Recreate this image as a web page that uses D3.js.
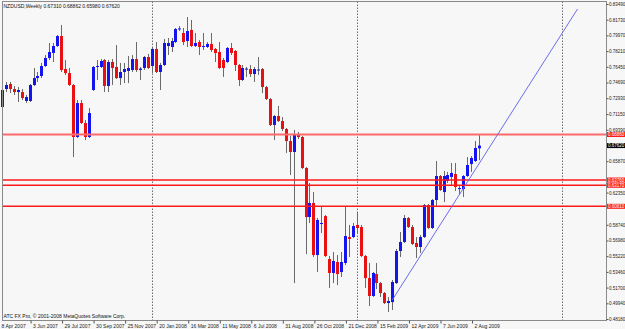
<!DOCTYPE html>
<html>
<head>
<meta charset="utf-8">
<script src="https://cdn.jsdelivr.net/npm/d3@7"></script>
<style>
  html, body { margin: 0; padding: 0; background: #f7f7f7; }
  svg { display: block; font-family: "Liberation Sans", Arial, sans-serif; }
</style>
</head>
<body>
<svg id="chart" width="625" height="329"></svg>
<script>
// weekly NZDUSD bars
const open = [
  0.7194,0.7396,0.7452,0.7396,0.7362,0.7362,0.7262,0.7262,0.7441,0.7519,
  0.7542,0.7654,0.7744,0.7800,0.7878,0.7990,0.7620,0.7575,0.7441,0.6858,
  0.7239,0.7015,0.6858,0.7385,0.7650,0.7643,0.7721,0.7430,0.7699,0.7643,
  0.7519,0.7587,0.7598,0.7609,0.7732,0.7609,0.7632,0.7755,0.7654,0.7845,
  0.7587,0.7665,0.7878,0.7867,0.7923,0.8069,0.8024,0.7934,0.8058,0.7878,
  0.7923,0.7873,0.7867,0.7901,0.7845,0.7811,0.7721,0.7699,0.7856,0.7822,
  0.7665,0.7497,0.7620,0.7620,0.7564,0.7609,0.7620,0.7418,0.7284,0.6993,
  0.7093,0.7037,0.6948,0.6813,0.6690,0.6880,0.6858,0.6511,0.5961,0.6118,
  0.5535,0.5883,0.5972,0.5490,0.5334,0.5457,0.5345,0.5446,0.5737,0.5737,
  0.5872,0.5849,0.5524,0.5277,0.5076,0.5322,0.5221,0.5109,0.4997,0.5008,
  0.5221,0.5580,0.5681,0.5950,0.5849,0.5670,0.5625,0.5737,0.6096,0.5838,
  0.6152,0.6421,0.6241,0.6365,0.6410,0.6443,0.6280,0.6275,0.6421,0.6555,
  0.6589,0.6731
];
const high = [
  0.7407,0.7475,0.7475,0.7430,0.7418,0.7396,0.7329,0.7452,0.7632,0.7587,
  0.7688,0.7777,0.7912,0.7912,0.8001,0.8114,0.7721,0.7632,0.7452,0.7273,
  0.7273,0.7049,0.7183,0.7654,0.7721,0.7732,0.7732,0.7721,0.7732,0.7889,
  0.7688,0.7688,0.7766,0.7777,0.7923,0.7643,0.7766,0.7789,0.7867,0.7923,
  0.7688,0.7957,0.7968,0.7968,0.8080,0.8102,0.8080,0.8203,0.8170,0.8024,
  0.7945,0.8024,0.7923,0.8024,0.7856,0.7923,0.7744,0.7867,0.7912,0.7833,
  0.7676,0.7665,0.7643,0.7665,0.7643,0.7755,0.7632,0.7430,0.7295,0.7105,
  0.7206,0.7082,0.6959,0.6869,0.6937,0.6914,0.6869,0.6520,0.6342,0.6241,
  0.5950,0.6073,0.5984,0.5524,0.5569,0.5535,0.5569,0.6085,0.5872,0.5894,
  0.6006,0.5872,0.5535,0.5446,0.5345,0.5446,0.5233,0.5120,0.5064,0.5255,
  0.5603,0.5793,0.5984,0.5961,0.5872,0.5737,0.5759,0.6107,0.6107,0.6163,
  0.6589,0.6432,0.6477,0.6466,0.6567,0.6567,0.6320,0.6432,0.6634,0.6645,
  0.6813,0.68862
];
const low = [
  0.7183,0.7362,0.7351,0.7329,0.7250,0.7273,0.7239,0.7250,0.7430,0.7475,
  0.7519,0.7643,0.7721,0.7699,0.7867,0.7587,0.7553,0.7430,0.6634,0.6847,
  0.7004,0.6824,0.6847,0.7374,0.7497,0.7632,0.7362,0.7362,0.7441,0.7508,
  0.7441,0.7463,0.7463,0.7587,0.7587,0.7497,0.7609,0.7620,0.7575,0.7575,
  0.7385,0.7654,0.7777,0.7811,0.7912,0.8046,0.7889,0.7867,0.7867,0.7867,
  0.7777,0.7833,0.7856,0.7811,0.7699,0.7620,0.7531,0.7688,0.7777,0.7598,
  0.7430,0.7486,0.7531,0.7531,0.7475,0.7553,0.7351,0.7273,0.6981,0.6824,
  0.7026,0.6925,0.6679,0.6432,0.5221,0.6836,0.6499,0.5546,0.5894,0.5513,
  0.5345,0.5782,0.5513,0.5165,0.5221,0.5199,0.5289,0.5423,0.5513,0.5726,
  0.5782,0.5513,0.5165,0.4963,0.5064,0.5154,0.5064,0.4986,0.4896,0.4919,
  0.5210,0.5513,0.5670,0.5838,0.5647,0.5502,0.5558,0.5726,0.5827,0.5827,
  0.6085,0.6253,0.6129,0.6342,0.6309,0.6253,0.6208,0.6185,0.6410,0.6466,
  0.6578,0.6598
];
const close = [
  0.7385,0.7441,0.7396,0.7362,0.7385,0.7295,0.7306,0.7441,0.7519,0.7542,
  0.7654,0.7744,0.7811,0.7878,0.7990,0.7609,0.7575,0.7441,0.6858,0.7239,
  0.7015,0.6858,0.7127,0.7643,0.7654,0.7710,0.7430,0.7699,0.7632,0.7519,
  0.7587,0.7620,0.7632,0.7732,0.7609,0.7625,0.7755,0.7632,0.7845,0.7587,
  0.7665,0.7912,0.7912,0.7934,0.8069,0.8075,0.7923,0.8046,0.7878,0.7912,
  0.7867,0.7878,0.7901,0.7833,0.7800,0.7632,0.7632,0.7856,0.7800,0.7665,
  0.7497,0.7632,0.7625,0.7564,0.7620,0.7615,0.7418,0.7284,0.6993,0.7093,
  0.7037,0.6948,0.6813,0.6690,0.6880,0.6858,0.6511,0.5961,0.6118,0.5535,
  0.5928,0.5894,0.5524,0.5334,0.5468,0.5322,0.5457,0.5748,0.5715,0.5860,
  0.5838,0.5524,0.5277,0.5076,0.5334,0.5221,0.5109,0.4997,0.5020,0.5233,
  0.5580,0.5681,0.5950,0.5849,0.5659,0.5625,0.5737,0.6096,0.5838,0.6152,
  0.6421,0.6264,0.6421,0.6432,0.6455,0.6298,0.6286,0.6421,0.6544,0.6623,
  0.6735,0.6762
];

const dateBars = [0, 8, 16, 24, 32, 40, 48, 56, 64, 72, 80, 88, 96, 104, 112, 120];
const dateLabels = ["8 Apr 2007", "3 Jun 2007", "29 Jul 2007", "30 Sep 2007", "25 Nov 2007",
  "20 Jan 2008", "16 Mar 2008", "11 May 2008", "6 Jul 2008", "31 Aug 2008", "26 Oct 2008",
  "21 Dec 2008", "15 Feb 2009", "12 Apr 2009", "7 Jun 2009", "2 Aug 2009"];
const priceTicks = [0.83490, 0.81730, 0.79970, 0.78210, 0.76450, 0.74690, 0.72930, 0.71150,
  0.69390, 0.65870, 0.62350, 0.58740, 0.56980, 0.55220, 0.53460, 0.51700, 0.49940, 0.48180];
const levels = [0.68860, 0.63760, 0.63170, 0.60810];
const separators = [38, 90, 142];
const trendBars = [99, 146];
const trendPrices = [0.5031, 0.8293];
const lastPrice = 0.67620;

const svg = d3.select('#chart');
const width = 625, height = 329;
const plot = { left: 2.5, top: 1.5, right: 606.5, bottom: 320.5 };
const fmt = d3.format('.5f');

const x = d3.scaleLinear().domain([0, 150]).range([2, 2 + 3.942 * 150]);
const y = d3.scaleLinear().domain([0.4818, 0.8349]).range([319, 4]);
const px = i => Math.round(x(i)) + 0.5;

svg.append('rect').attr('width', width).attr('height', height).attr('fill', '#f7f7f7');

// period separators
svg.append('g').selectAll('line')
  .data(separators)
  .join('line')
  .attr('x1', d => px(d)).attr('x2', d => px(d))
  .attr('y1', plot.top).attr('y2', plot.bottom)
  .attr('stroke', '#6d6d6d')
  .attr('stroke-dasharray', '1.5,1.5');

// candles
const bars = d3.range(open.length);
const candles = svg.append('g');
candles.selectAll('.wick')
  .data(bars)
  .join('line')
  .attr('class', 'wick')
  .attr('x1', d => px(d)).attr('x2', d => px(d))
  .attr('y1', d => y(high[d])).attr('y2', d => y(low[d]))
  .attr('stroke', '#6a6a6a')
  .attr('stroke-width', 1);
candles.selectAll('.body')
  .data(bars)
  .join('rect')
  .attr('class', 'body')
  .attr('x', d => px(d) - 1.5)
  .attr('y', d => y(Math.max(open[d], close[d])))
  .attr('width', 3)
  .attr('height', d => Math.max(1, Math.abs(y(open[d]) - y(close[d]))))
  .attr('fill', d => close[d] >= open[d] ? '#1414f0' : '#e81010');

// horizontal levels
svg.append('g').selectAll('line')
  .data(levels)
  .join('line')
  .attr('x1', plot.left).attr('x2', plot.right)
  .attr('y1', d => y(d)).attr('y2', d => y(d))
  .attr('stroke', (d, i) => i === 0 ? '#ff6a6a' : '#ff1a1a')
  .attr('stroke-width', (d, i) => i === 0 ? 2 : 1.5);

// trendline
svg.append('line')
  .attr('x1', x(trendBars[0])).attr('y1', y(trendPrices[0]))
  .attr('x2', x(trendBars[1])).attr('y2', y(trendPrices[1]))
  .attr('stroke', '#6b6bf0')
  .attr('stroke-width', 1);

// frame
svg.append('rect')
  .attr('x', plot.left).attr('y', plot.top)
  .attr('width', plot.right - plot.left).attr('height', plot.bottom - plot.top)
  .attr('fill', 'none')
  .attr('stroke', '#8a8a8a');

// price axis
const yAxis = svg.append('g')
  .attr('transform', `translate(${plot.right},0)`)
  .call(d3.axisRight(y).tickValues(priceTicks).tickFormat(fmt).tickSize(2).tickPadding(0.5));
yAxis.select('.domain').remove();
yAxis.selectAll('line').attr('stroke', '#555');
yAxis.selectAll('text').attr('font-size', '4.5px').attr('fill', '#222').attr('font-family', null);

// time axis
const xAxis = svg.append('g')
  .attr('transform', `translate(-3,${plot.bottom})`)
  .call(d3.axisBottom(x).tickValues(dateBars).tickFormat((d, i) => dateLabels[i]).tickSize(3).tickPadding(1));
xAxis.select('.domain').remove();
xAxis.selectAll('line').attr('stroke', '#555');
xAxis.selectAll('text')
  .attr('text-anchor', 'start')
  .attr('x', 2)
  .attr('font-size', '5px')
  .attr('fill', '#222')
  .attr('font-family', null);

// price labels on the axis
const tags = svg.append('g');
levels.forEach(v => {
  tags.append('rect')
    .attr('x', 607).attr('y', y(v) - 2.5).attr('width', 18).attr('height', 5)
    .attr('fill', '#ff1a1a');
  tags.append('text')
    .attr('x', 608).attr('y', y(v) + 1.6)
    .attr('font-size', '4.5px').attr('fill', '#fff')
    .text(fmt(v));
});
tags.append('rect')
  .attr('x', 607).attr('y', y(lastPrice) - 2.5).attr('width', 18).attr('height', 5)
  .attr('fill', '#000');
tags.append('text')
  .attr('x', 608).attr('y', y(lastPrice) + 1.6)
  .attr('font-size', '4.5px').attr('fill', '#fff')
  .text(fmt(lastPrice));

// header and footer
const n = open.length - 1;
svg.append('text')
  .attr('x', 3.5).attr('y', 7.5)
  .attr('font-size', '5px').attr('fill', '#111')
  .text(`NZDUSD,Weekly  ${fmt(open[n])} ${fmt(high[n])} ${fmt(low[n])} ${fmt(close[n])}`);
svg.append('text')
  .attr('x', 3.5).attr('y', 318)
  .attr('font-size', '5px').attr('fill', '#111')
  .text('ATC FX Pro, © 2001-2008 MetaQuotes Software Corp.');
</script>
</body>
</html>
